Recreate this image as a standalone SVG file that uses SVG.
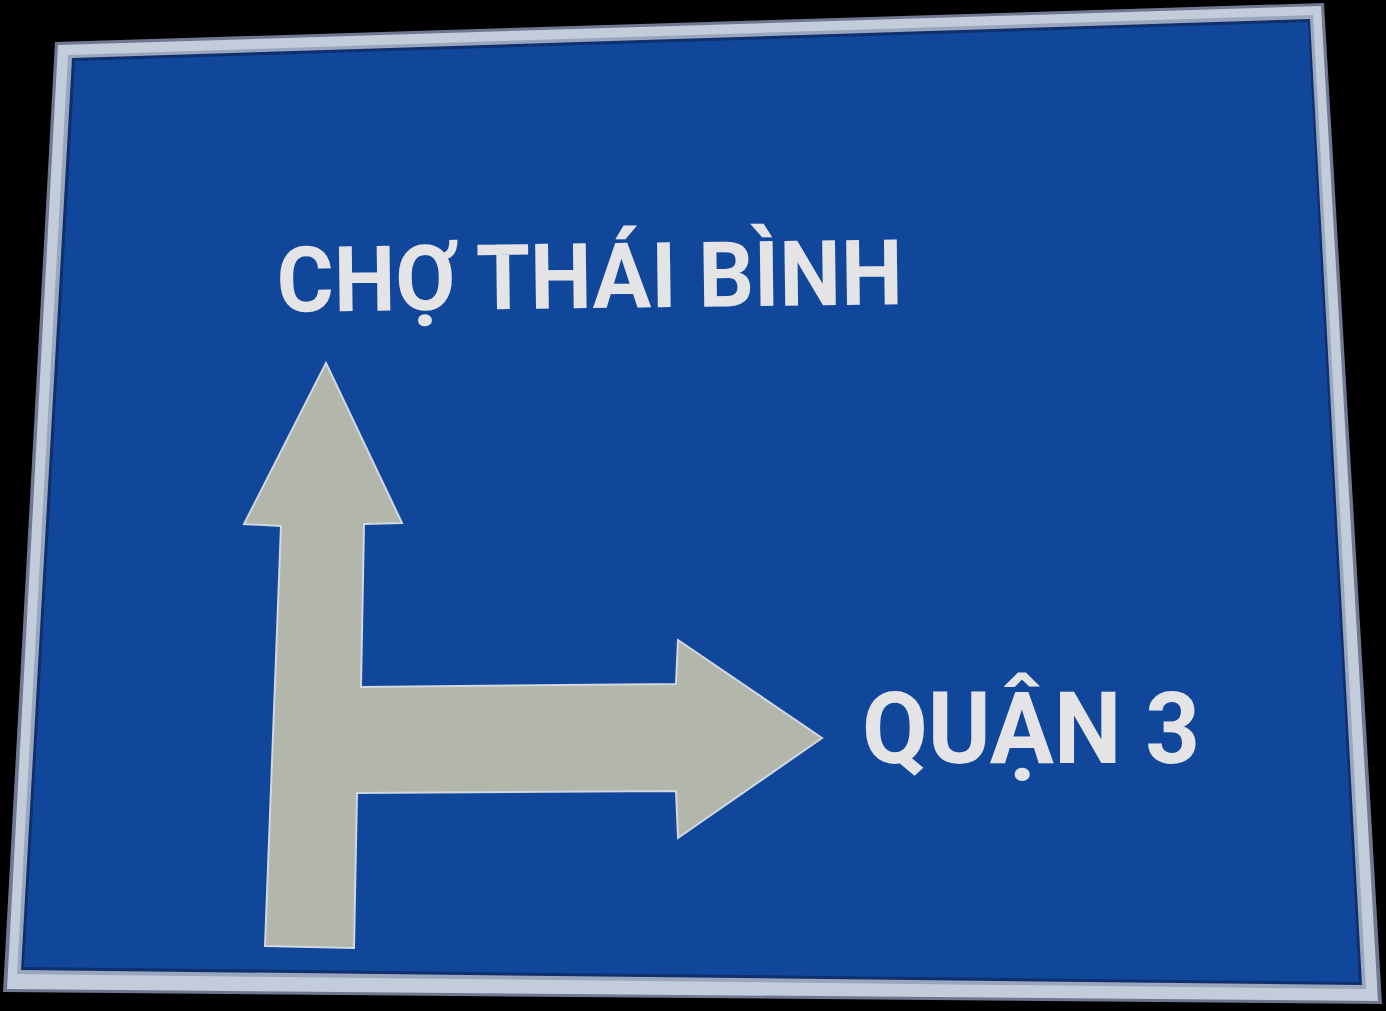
<svg xmlns="http://www.w3.org/2000/svg" width="1386" height="1011" viewBox="0 0 1386 1011">
  <defs>
    <style>
      .lbl { font-family: Roboto, "Liberation Sans", "DejaVu Sans", sans-serif; font-weight: bold; fill: #e4e4e6; }
      .arrow { fill: #b3b6aa; stroke: #d2d8e0; stroke-width: 2; stroke-linejoin: miter; }
    </style>
  </defs>
  <rect x="0" y="0" width="1386" height="1011" fill="#000000"/>
  <g id="board">
    <polygon points="55,42 1324,3 1382,1004 3,992" fill="#6f7890"/>
    <polygon points="58,45 1321,6 1378,1001 7,989" fill="#c3ccda"/>
    <polygon points="68,55 1313,15 1366,989 17,974" fill="#9aa6bc"/>
    <polygon points="72,58 1310,19 1362,985 21,970" fill="#0f2f6e"/>
    <polygon points="75,61 1308,22 1359,982 24,967" fill="#11479a"/>
  </g>
  <g id="connectors">
    <polygon id="arrow" class="arrow" points="326,363 402,523 364,524 361,687 676,684 678,640 822,738 678,838 676,791 357,793 354,948 265,946 281,526 244,524"/>
  </g>
  <g id="label-cho-thai-binh">
    <text class="lbl" x="277" y="308" font-size="91" textLength="626" lengthAdjust="spacingAndGlyphs" transform="rotate(-0.7 590 305)">CHỢ THÁI BÌNH</text>
  </g>
  <g id="label-quan-3">
    <text class="lbl" x="862" y="763" font-size="100" textLength="338" lengthAdjust="spacingAndGlyphs">QUẬN 3</text>
  </g>
</svg>
